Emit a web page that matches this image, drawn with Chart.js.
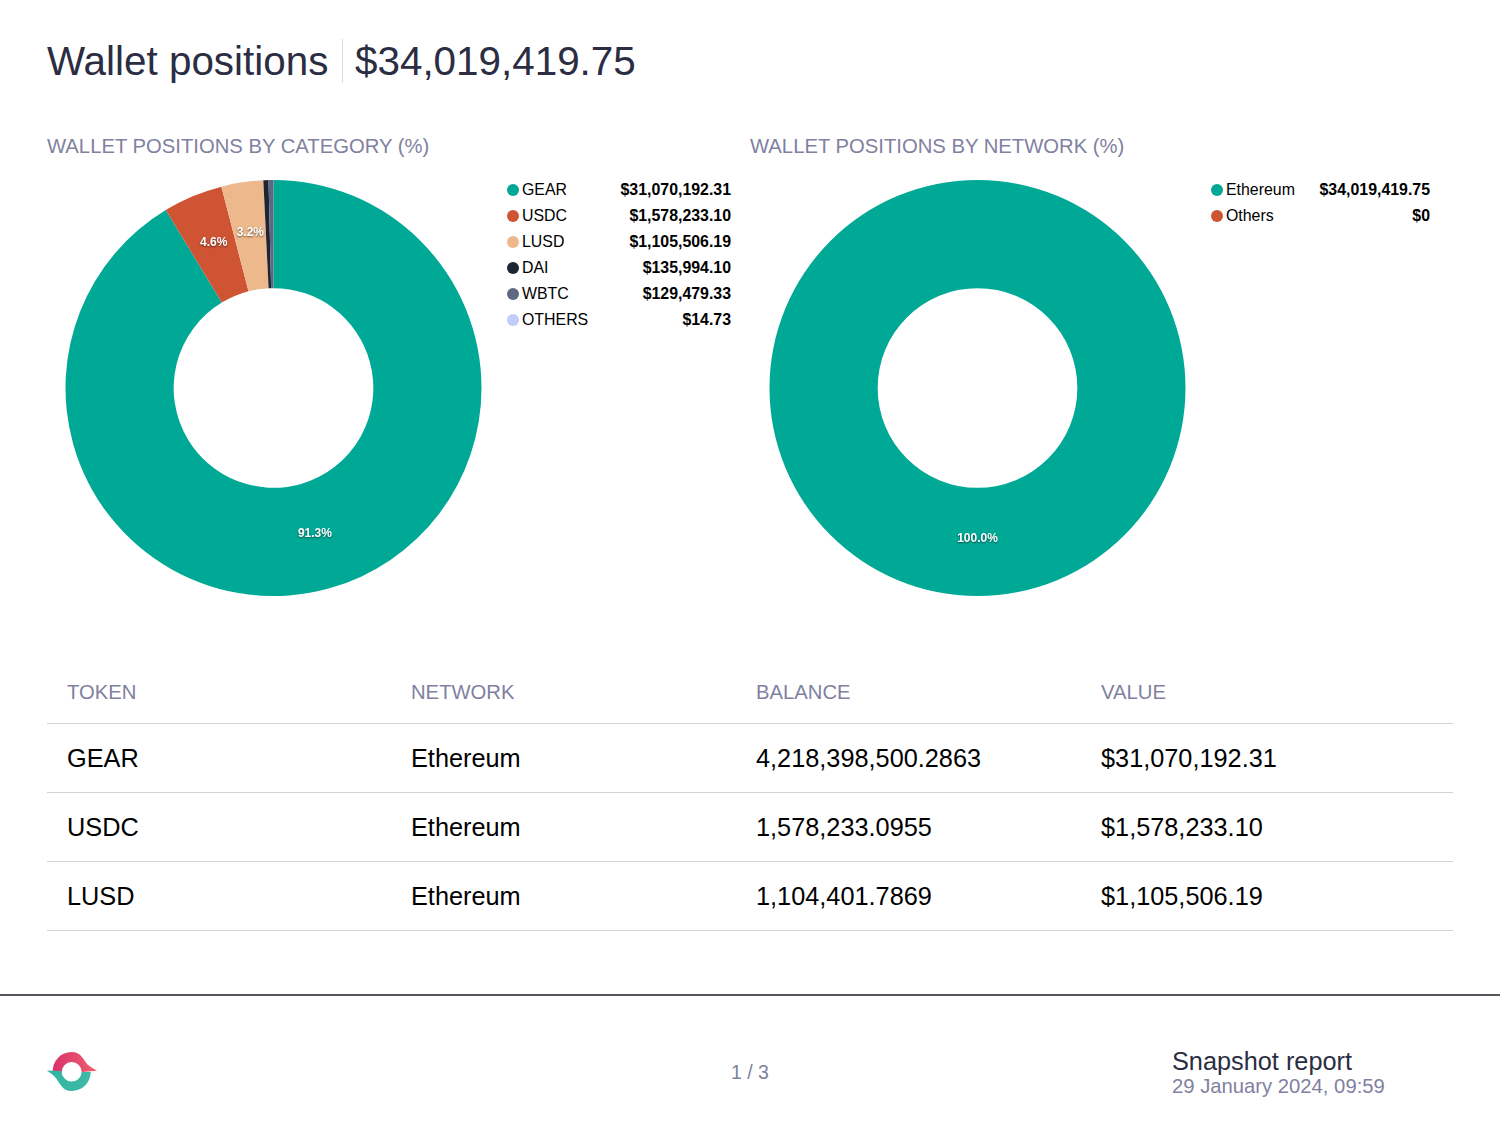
<!DOCTYPE html>
<html>
<head>
<meta charset="utf-8">
<title>Wallet positions</title>
<script src="https://cdn.jsdelivr.net/npm/chart.js@4"></script>
<style>
  html, body { margin: 0; padding: 0; background: #fff; }
  body { width: 1500px; height: 1144px; position: relative; overflow: hidden; font-family: "Liberation Sans", Arial, sans-serif; color: #000; }
  .abs { position: absolute; white-space: nowrap; }
  #title, #total { top: 36px; font-size: 40.4px; line-height: 50px; color: #2b2d42; }
  #title { left: 47px; }
  #total { left: 355px; }
  #title-sep { left: 342px; top: 39px; width: 1px; height: 44px; background: #dcdce4; }
  .chart-title { top: 133px; font-size: 20.25px; line-height: 26px; color: #7f819f; }
  .chart-box { top: 169px; width: 438px; height: 438px; }
  .legend-row { height: 26px; font-size: 15.9px; line-height: 26px; }
  .legend-dot { position: absolute; left: 0; top: 7.5px; width: 12px; height: 12px; border-radius: 50%; }
  .legend-name { position: absolute; left: 15px; top: 0; }
  .legend-value { position: absolute; right: 0; top: 0; font-weight: bold; }
  #table-head div { top: 679px; font-size: 20.25px; line-height: 26px; color: #7f819f; }
  .cell { font-size: 25.3px; line-height: 32px; }
  .rule { left: 47px; width: 1406px; height: 1px; background: #d3d3d6; }
  #footer-rule { left: 0; top: 994px; width: 1500px; height: 2px; background: #55565c; }
  #page-num { left: 0; width: 1500px; top: 1060px; text-align: center; font-size: 19.5px; line-height: 24px; color: #7f819f; }
  #report-name { left: 1172px; top: 1046px; font-size: 25.3px; line-height: 30px; color: #2b2d42; }
  #report-date { left: 1172px; top: 1074px; font-size: 20.25px; line-height: 24px; color: #7f819f; }
  #logo { left: 46px; top: 1049px; }
</style>
</head>
<body>
<div class="abs" id="title">Wallet positions</div>
<div class="abs" id="title-sep"></div>
<div class="abs" id="total">$34,019,419.75</div>

<div class="abs chart-title" style="left:47px">WALLET POSITIONS BY CATEGORY (%)</div>
<div class="abs chart-title" style="left:750px">WALLET POSITIONS BY NETWORK (%)</div>

<div class="abs chart-box" style="left:54px"><canvas id="categoryChart"></canvas></div>
<div class="abs chart-box" style="left:758px"><canvas id="networkChart"></canvas></div>

<div id="categoryLegend"></div>
<div id="networkLegend"></div>

<div id="table-head"></div>
<div id="table-body"></div>

<div class="abs" id="footer-rule"></div>
<svg class="abs" id="logo" width="52" height="44" viewBox="0 0 52 44">
  <defs>
    <linearGradient id="pink" x1="0" y1="0" x2="1" y2="0"><stop offset="0" stop-color="#d8326e"/><stop offset="1" stop-color="#f0606a"/></linearGradient>
    <linearGradient id="teal" x1="0" y1="0" x2="1" y2="0"><stop offset="0" stop-color="#2fb5a0"/><stop offset="1" stop-color="#3fb8a8"/></linearGradient>
  </defs>
  <path d="M6.7 23 A19 19 0 0 1 25.7 3 C35 3 37 10 41 15 C44 18 48 20 51 21.7 L35.7 23 A10 10 0 0 0 15.7 23 Z" fill="url(#pink)"/>
  <path d="M0.7 21.5 L15.7 22 A10 10 0 0 0 35.7 23 L44.7 23 A19 19 0 0 1 25.7 42 C16 42 14 34 9 28 C6.5 25 3 23 0.7 21.5 Z" fill="url(#teal)"/>
</svg>
<div class="abs" id="page-num">1 / 3</div>
<div class="abs" id="report-name">Snapshot report</div>
<div class="abs" id="report-date">29 January 2024, 09:59</div>

<script>
// ---- data ----
const categoryLabels = ['GEAR', 'USDC', 'LUSD', 'DAI', 'WBTC', 'OTHERS'];
const categoryValues = [31070192.31, 1578233.10, 1105506.19, 135994.10, 129479.33, 14.73];
const categoryText = ['$31,070,192.31', '$1,578,233.10', '$1,105,506.19', '$135,994.10', '$129,479.33', '$14.73'];
const categoryColors = ['#00a896', '#cf5433', '#edb88b', '#1d2433', '#5f6882', '#c0cdf7'];

const networkLabels = ['Ethereum', 'Others'];
const networkValues = [34019419.75, 0];
const networkText = ['$34,019,419.75', '$0'];
const networkColors = ['#00a896', '#cf5433'];

const tableHeaders = ['TOKEN', 'NETWORK', 'BALANCE', 'VALUE'];
const tableTokens = ['GEAR', 'USDC', 'LUSD'];
const tableNetworks = ['Ethereum', 'Ethereum', 'Ethereum'];
const tableBalances = ['4,218,398,500.2863', '1,578,233.0955', '1,104,401.7869'];
const tableAmounts = ['$31,070,192.31', '$1,578,233.10', '$1,105,506.19'];

// ---- percent labels on the slices ----
const percentLabels = {
  id: 'percentLabels',
  afterDatasetsDraw(chart) {
    const { ctx } = chart;
    const values = chart.data.datasets[0].data;
    const total = values.reduce((sum, v) => sum + v, 0);
    chart.getDatasetMeta(0).data.forEach((arc, i) => {
      const share = values[i] / total * 100;
      if (share < 2) return;
      const pos = arc.tooltipPosition();
      ctx.save();
      ctx.font = 'bold 12px "Liberation Sans", Arial, sans-serif';
      ctx.textAlign = 'center';
      ctx.textBaseline = 'middle';
      ctx.fillStyle = '#fff';
      ctx.shadowColor = 'rgba(0,0,0,0.55)';
      ctx.shadowBlur = 2;
      ctx.shadowOffsetY = 1;
      ctx.fillText(share.toFixed(1) + '%', pos.x, pos.y - 3); // labels sit a little above the ring middle
      ctx.restore();
    });
  }
};

function renderDoughnut(id, labels, values, colors) {
  new Chart(document.getElementById(id), {
    type: 'doughnut',
    data: {
      labels: labels,
      datasets: [{ data: values, backgroundColor: colors, borderWidth: 0 }]
    },
    options: {
      responsive: true,
      maintainAspectRatio: true,
      aspectRatio: 1,
      animation: false,
      cutout: '48%',
      layout: { padding: { left: 11.5, right: 10.5, top: 11, bottom: 11 } },
      plugins: { legend: { display: false }, tooltip: { enabled: false } }
    },
    plugins: [percentLabels]
  });
}

function renderLegend(id, labels, text, colors, left, width) {
  document.getElementById(id).innerHTML = labels.map((name, i) => `
    <div class="abs legend-row" style="left:${left}px;width:${width}px;top:${176.5 + i * 26}px">
      <span class="legend-dot" style="background:${colors[i]}"></span>
      <span class="legend-name">${name}</span>
      <span class="legend-value">${text[i]}</span>
    </div>`).join('');
}

function renderTable() {
  const columns = [67, 411, 756, 1101];
  document.getElementById('table-head').innerHTML = tableHeaders.map((h, i) =>
    `<div class="abs" style="left:${columns[i]}px">${h}</div>`).join('');
  const rows = tableTokens.map((token, i) => [token, tableNetworks[i], tableBalances[i], tableAmounts[i]]);
  let html = '<div class="abs rule" style="top:723px"></div>';
  rows.forEach((row, r) => {
    row.forEach((cell, c) => {
      html += `<div class="abs cell" style="left:${columns[c]}px;top:${742 + r * 69}px">${cell}</div>`;
    });
    html += `<div class="abs rule" style="top:${792 + r * 69}px"></div>`;
  });
  document.getElementById('table-body').innerHTML = html;
}

renderLegend('categoryLegend', categoryLabels, categoryText, categoryColors, 507, 224);
renderLegend('networkLegend', networkLabels, networkText, networkColors, 1211, 219);
renderTable();
renderDoughnut('categoryChart', categoryLabels, categoryValues, categoryColors);
renderDoughnut('networkChart', networkLabels, networkValues, networkColors);
</script>
</body>
</html>
